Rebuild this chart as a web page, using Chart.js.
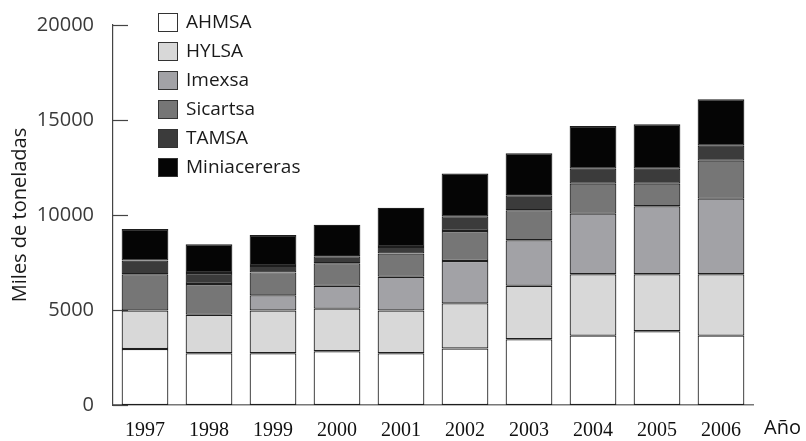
<!DOCTYPE html>
<html>
<head>
<meta charset="utf-8">
<script src="https://cdn.jsdelivr.net/npm/chart.js@4/dist/chart.umd.min.js"></script>
<style>
  html, body { margin: 0; padding: 0; background: #fff; }
  #wrap { width: 806px; height: 441px; }
</style>
</head>
<body>
<div id="wrap"><canvas id="chart"></canvas></div>
<script>
const years = ['1997', '1998', '1999', '2000', '2001', '2002', '2003', '2004', '2005', '2006'];
const ahmsa = [2950, 2720, 2720, 2830, 2720, 2970, 3460, 3650, 3880, 3650];
const hylsa = [2020, 2030, 2250, 2240, 2250, 2380, 2820, 3230, 3000, 3230];
const imexsa = [0, 0, 800, 1210, 1780, 2230, 2390, 3190, 3580, 3980];
const sicartsa = [1910, 1620, 1210, 1180, 1220, 1580, 1580, 1580, 1190, 2000];
const tamsa = [720, 580, 340, 370, 350, 770, 790, 790, 790, 790];
const miniacereras = [1660, 1510, 1630, 1660, 2060, 2250, 2210, 2240, 2330, 2440];
const yTicks = [0, 5000, 10000, 15000, 20000];

const sansFont = "'Open Sans', 'Noto Sans', sans-serif";
const serifFont = "'Liberation Serif', 'DejaVu Serif', serif";

function series(label, data, color) {
  return {
    label,
    data,
    backgroundColor: color,
    borderColor: '#1e1e1e',
    borderWidth: 1.2,
    borderSkipped: false,
    categoryPercentage: 1,
    barPercentage: 0.73,
  };
}

// short tick marks pointing into the plot, drawn before the bars
const innerTicks = {
  id: 'innerTicks',
  beforeDatasetsDraw(chart) {
    const { ctx } = chart;
    const y = chart.scales.y;
    ctx.save();
    ctx.strokeStyle = '#444';
    ctx.lineWidth = 1.2;
    yTicks.forEach(v => {
      const py = Math.round(y.getPixelForValue(v)) + 0.5;
      ctx.beginPath();
      ctx.moveTo(y.right, py);
      ctx.lineTo(y.right + 15, py);
      ctx.stroke();
    });
    ctx.restore();
  },
};

// legend stacked in the top-left corner of the plot, plus the "Año" caption
const sideLegend = {
  id: 'sideLegend',
  afterDraw(chart) {
    const { ctx } = chart;
    ctx.save();
    ctx.font = `19px ${sansFont}`;
    ctx.textBaseline = 'middle';
    ctx.textAlign = 'left';
    chart.data.datasets.forEach((ds, i) => {
      const top = 13 + i * 29;
      ctx.fillStyle = ds.backgroundColor;
      ctx.fillRect(158, top, 20, 19);
      ctx.strokeStyle = '#333';
      ctx.lineWidth = 1;
      ctx.strokeRect(158.5, top + 0.5, 19, 18);
      ctx.fillStyle = '#1a1a1a';
      ctx.fillText(ds.label, 186, top + 10);
    });
    ctx.font = `20px ${sansFont}`;
    ctx.fillStyle = '#111';
    ctx.fillText('Año', 764, 428);
    ctx.restore();
  },
};

new Chart(document.getElementById('chart'), {
  type: 'bar',
  data: {
    labels: years,
    datasets: [
      series('AHMSA', ahmsa, '#ffffff'),
      series('HYLSA', hylsa, '#d8d8d8'),
      series('Imexsa', imexsa, '#a2a2a6'),
      series('Sicartsa', sicartsa, '#767676'),
      series('TAMSA', tamsa, '#3b3b3b'),
      series('Miniacereras', miniacereras, '#050505'),
    ],
  },
  options: {
    responsive: true,
    maintainAspectRatio: false,
    animation: false,
    layout: {
      padding: { left: 0, top: 25, right: 53, bottom: 0 },
    },
    plugins: {
      legend: { display: false },
      tooltip: { enabled: false },
    },
    scales: {
      x: {
        stacked: true,
        grid: { display: false },
        border: { display: true, color: '#777', width: 1.5 },
        ticks: {
          color: '#111',
          font: { family: serifFont, size: 20 },
          padding: 6,
        },
        afterFit(scale) { scale.height = 36; },
      },
      y: {
        stacked: true,
        min: 0,
        max: 20000,
        grid: { display: false },
        border: { display: true, color: '#444', width: 1.2 },
        afterBuildTicks(scale) {
          scale.ticks = yTicks.map(v => ({ value: v }));
        },
        ticks: {
          color: '#3a3a3a',
          font: { family: sansFont, size: 20 },
          padding: 11,
          callback: v => String(v),
        },
        title: {
          display: true,
          text: 'Miles de toneladas',
          color: '#1a1a1a',
          font: { family: sansFont, size: 20 },
          padding: { top: 8, bottom: 0 },
        },
        afterFit(scale) { scale.width = 113; },
      },
    },
  },
  plugins: [innerTicks, sideLegend],
});
</script>
</body>
</html>
